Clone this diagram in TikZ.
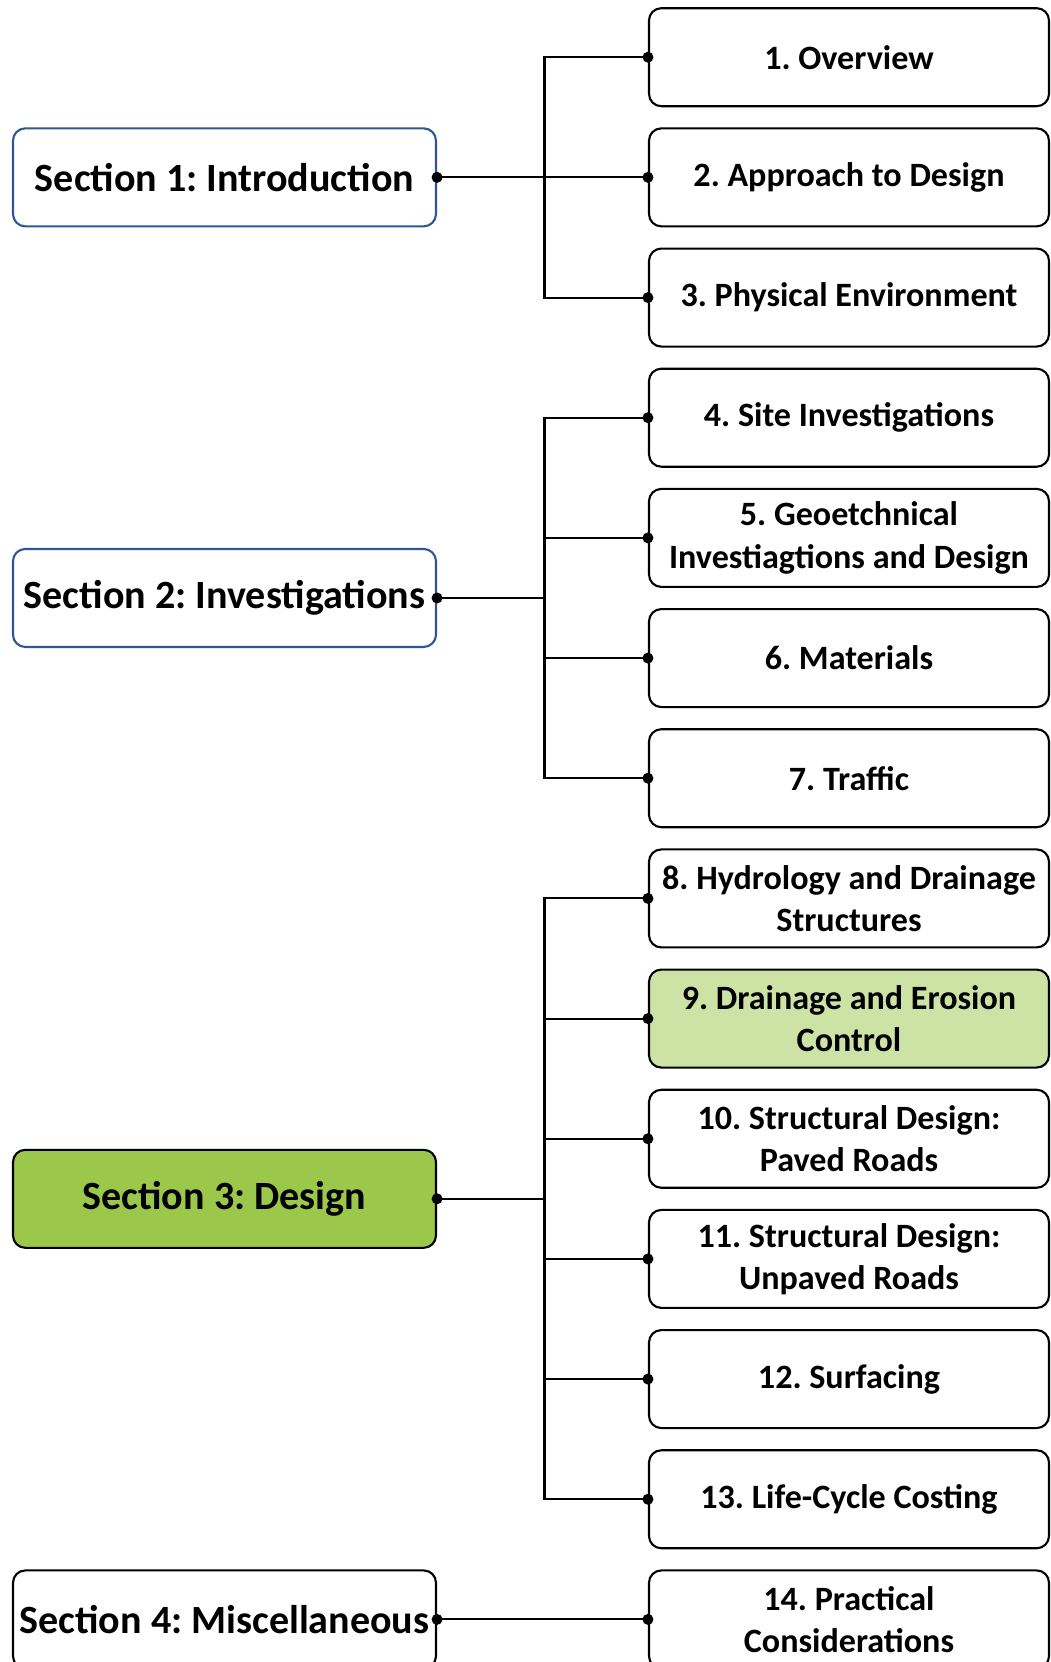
\documentclass[tikz,border=0pt]{standalone}
\usepackage{fontspec}
\setmainfont{Carlito}
\usetikzlibrary{positioning}
\definecolor{secblue}{RGB}{47,85,151}
\definecolor{designgreen}{RGB}{155,200,75}
\definecolor{palegreen}{RGB}{205,227,166}
\frenchspacing

\begin{document}
\begin{tikzpicture}[
  section/.style={rectangle,draw,rounded corners=7pt,line width=1.2pt,
                  minimum width=8.46cm,minimum height=1.96cm,inner sep=2pt,
                  align=center,font=\fontsize{22.8}{27}\selectfont\bfseries},
  chapter/.style={rectangle,draw,rounded corners=7pt,line width=1.2pt,
                  minimum width=8cm,minimum height=1.96cm,inner sep=2pt,
                  align=center,font=\fontsize{19.4}{24.1}\selectfont\bfseries},
  link/.style={line width=1.2pt},
]
\useasboundingbox (0,0) rectangle (21,-33.24);

% Chapters
\node[chapter] (c1)  at (16.98, -1.144) {1. Overview};
\node[chapter] (c2)  at (16.98, -3.547) {2. Approach to Design};
\node[chapter] (c3)  at (16.98, -5.951) {3. Physical Environment};
\node[chapter] (c4)  at (16.98, -8.354) {4. Site Investigations};
\node[chapter] (c5)  at (16.98,-10.758) {5. Geoetchnical\\Investiagtions and Design};
\node[chapter] (c6)  at (16.98,-13.161) {6. Materials};
\node[chapter] (c7)  at (16.98,-15.564) {7. Traffic};
\node[chapter] (c8)  at (16.98,-17.968) {8. Hydrology and Drainage\\Structures};
\node[chapter,fill=palegreen] (c9) at (16.98,-20.371) {9. Drainage and Erosion\\Control};
\node[chapter] (c10) at (16.98,-22.775) {10. Structural Design:\\Paved Roads};
\node[chapter] (c11) at (16.98,-25.178) {11. Structural Design:\\Unpaved Roads};
\node[chapter] (c12) at (16.98,-27.581) {12. Surfacing};
\node[chapter] (c13) at (16.98,-29.985) {13. Life-Cycle Costing};
\node[chapter] (c14) at (16.98,-32.388) {14. Practical\\Considerations};

% Sections
\node[section,draw=secblue] (s1) at (4.49, -3.547) {Section 1: Introduction};
\node[section,draw=secblue] (s2) at (4.49,-11.959) {Section 2: Investigations};
\node[section,fill=designgreen] (s3) at (4.49,-23.976) {Section 3: Design};
\node[section] (s4) at (4.49,-32.388) {Section 4: Miscellaneous};

\coordinate (trunk) at (10.89,0);

% Section 1 branches
\draw[link] (s1.east) -- (s1.east -| trunk);
\draw[link] (c1.west) -- (c1.west -| trunk) |- (c3.west);
\draw[link] (c2.west) -- (c2.west -| trunk);

% Section 2 branches
\draw[link] (s2.east) -- (s2.east -| trunk);
\draw[link] (c4.west) -- (c4.west -| trunk) |- (c7.west);
\draw[link] (c5.west) -- (c5.west -| trunk);
\draw[link] (c6.west) -- (c6.west -| trunk);

% Section 3 branches
\draw[link] (s3.east) -- (s3.east -| trunk);
\draw[link] (c8.west) -- (c8.west -| trunk) |- (c13.west);
\draw[link] (c9.west) -- (c9.west -| trunk);
\draw[link] (c10.west) -- (c10.west -| trunk);
\draw[link] (c11.west) -- (c11.west -| trunk);
\draw[link] (c12.west) -- (c12.west -| trunk);

% Section 4
\draw[link] (s4.east) -- (c14.west);

% joints
\foreach \p in {s1.east,s2.east,s3.east,s4.east,c1.west,c2.west,c3.west,c4.west,
                c5.west,c6.west,c7.west,c8.west,c9.west,c10.west,c11.west,
                c12.west,c13.west,c14.west}
  \fill (\p) circle (0.11);

\end{tikzpicture}
\end{document}
